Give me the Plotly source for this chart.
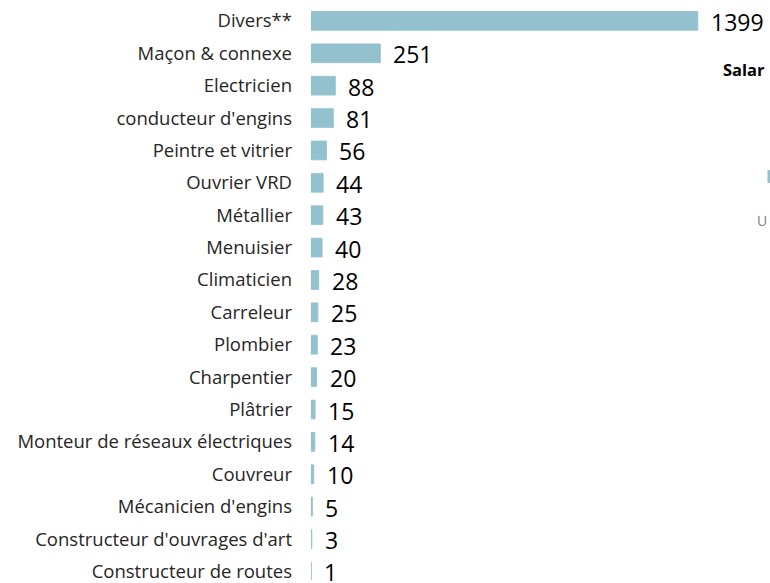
import plotly.graph_objects as go

categories = [
    "Divers**", "Maçon & connexe", "Electricien", "conducteur d'engins",
    "Peintre et vitrier", "Ouvrier VRD", "Métallier", "Menuisier",
    "Climaticien", "Carreleur", "Plombier", "Charpentier", "Plâtrier",
    "Monteur de réseaux électriques", "Couvreur", "Mécanicien d'engins",
    "Constructeur d'ouvrages d'art", "Constructeur de routes",
]
values = [1399, 251, 88, 81, 56, 44, 43, 40, 28, 25, 23, 20, 15, 14, 10, 5, 3, 1]

BAR_COLOR = "#93C1CE"

# plot-area geometry in page px
W, H = 770, 583
PLOT_L, PLOT_R, PLOT_T, PLOT_B = 311, 770, 0, 583


def px(xp):
    return (xp - PLOT_L) / (PLOT_R - PLOT_L)


def py(yp):
    return 1 - (yp - PLOT_T) / (PLOT_B - PLOT_T)


fig = go.Figure()
fig.add_trace(go.Bar(
    x=values,
    y=list(range(len(categories))),
    orientation="h",
    width=0.58,
    marker=dict(color=BAR_COLOR, line=dict(color=BAR_COLOR, width=0.8)),
    hoverinfo="skip",
))

for i, v in enumerate(values):
    fig.add_annotation(
        x=v, y=i, xref="x", yref="y", text=str(v), showarrow=False,
        xanchor="left", yanchor="middle", xshift=11, yshift=-1,
        font=dict(family="Open Sans", size=23, color="#000000"),
    )

# fragments of the neighbouring (cropped) chart at the right edge
fig.add_annotation(
    x=px(721), y=py(70), xref="paper", yref="paper",
    text="<b>Salar</b>", showarrow=False, xanchor="left", yanchor="middle",
    font=dict(family="Open Sans", size=16.5, color="#000000"),
)
fig.add_annotation(
    x=px(755), y=py(222), xref="paper", yref="paper",
    text="U", showarrow=False, xanchor="left", yanchor="middle",
    font=dict(family="Open Sans", size=14, color="#7f7f7f"),
)
fig.add_shape(
    type="rect", xref="paper", yref="paper",
    x0=px(767.5), x1=1.0, y0=py(184), y1=py(171),
    fillcolor=BAR_COLOR, line=dict(width=0),
)

fig.update_layout(
    width=W, height=H,
    margin=dict(l=PLOT_L, r=W - PLOT_R, t=PLOT_T, b=H - PLOT_B),
    paper_bgcolor="white", plot_bgcolor="white",
    showlegend=False,
    xaxis=dict(range=[0, 1660], visible=False, fixedrange=True),
    yaxis=dict(
        range=[17.265, -0.645],
        tickmode="array",
        tickvals=list(range(len(categories))),
        ticktext=categories,
        showgrid=False, zeroline=False, showline=False,
        ticks="", ticklabelstandoff=18, ticklabeloverflow="allow",
        tickfont=dict(family="Open Sans", size=18.5, color="#262626"),
        fixedrange=True,
    ),
)

fig.write_html(
    "out.html",
    config={"displayModeBar": False, "staticPlot": True},
    post_script="document.body.style.margin='0';document.body.style.overflow='hidden';",
)
